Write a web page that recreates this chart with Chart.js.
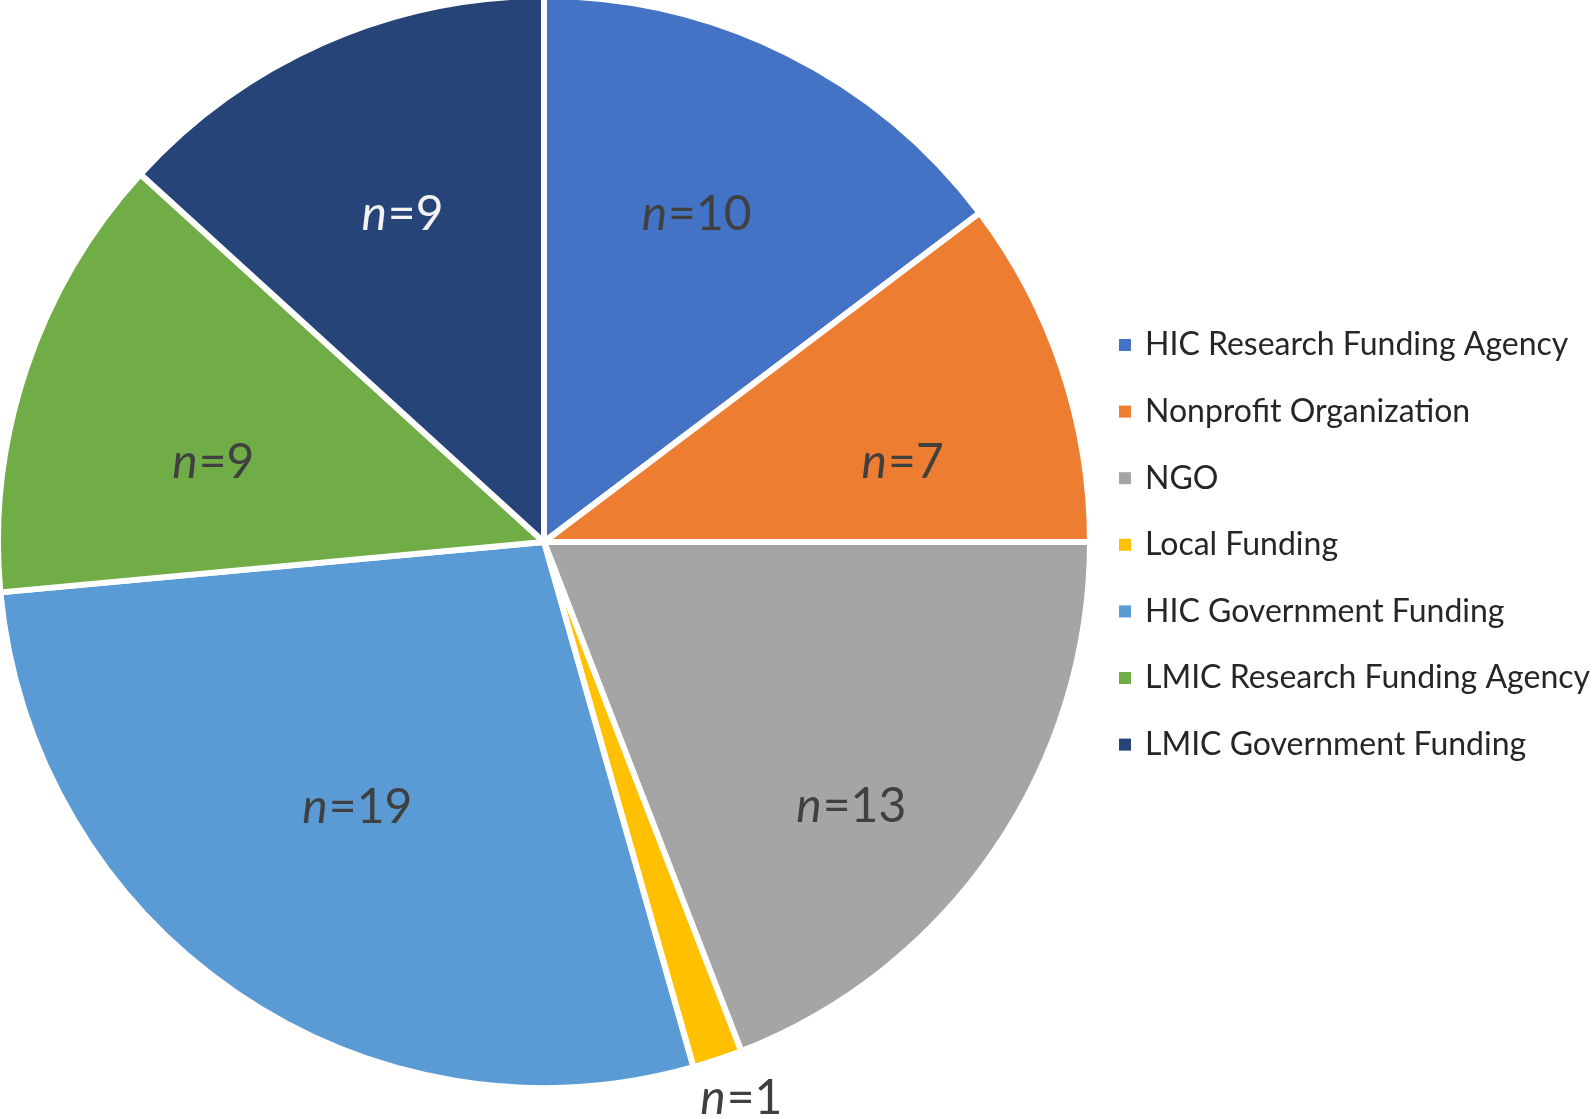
<!DOCTYPE html>
<html>
<head>
<meta charset="utf-8">
<script src="https://cdn.jsdelivr.net/npm/chart.js@4"></script>
<style>
  html, body { margin: 0; padding: 0; background: #ffffff; }
  #wrap { position: relative; width: 1594px; height: 1119px; }
</style>
</head>
<body>
<div id="wrap"><canvas id="c" width="1594" height="1119"></canvas></div>
<script>
// ---- data ----
const categories = [
  "HIC Research Funding Agency",
  "Nonprofit Organization",
  "NGO",
  "Local Funding",
  "HIC Government Funding",
  "LMIC Research Funding Agency",
  "LMIC Government Funding"
];
const counts = [10, 7, 13, 1, 19, 9, 9];
const sliceColors = ["#4472C4", "#ED7D31", "#A5A5A5", "#FFC000", "#5B9BD5", "#70AD47", "#264478"];

// ---- label plugin: "n=" values on slices (Excel-like placement) ----
const sliceLabels = {
  id: 'sliceLabels',
  afterDatasetsDraw(chart, args, opts) {
    const ctx = chart.ctx;
    const meta = chart.getDatasetMeta(0);
    const fontSize = opts.fontSize;
    const total = counts.reduce((a, b) => a + b, 0);
    ctx.save();
    ctx.textBaseline = 'alphabetic';
    ctx.textAlign = 'left';
    meta.data.forEach((arc, i) => {
      const p = arc.getProps(['x', 'y', 'startAngle', 'endAngle', 'outerRadius'], true);
      const mid = (p.startAngle + p.endAngle) / 2;
      const frac = counts[i] / total;
      const dist = frac < 0.03 ? p.outerRadius + opts.outsideGap : p.outerRadius * opts.insideFrac;
      const nudge = opts.nudges[i] || [0, 0];
      const cx = p.x + Math.cos(mid) * dist + nudge[0];
      const cy = p.y + Math.sin(mid) * dist + nudge[1];
      const italic = 'italic ' + fontSize + 'px Lato';
      const normal = fontSize + 'px Lato';
      const rest = '=' + counts[i];
      ctx.fillStyle = (opts.colors && opts.colors[i]) || opts.color;
      ctx.font = italic;
      const wN = ctx.measureText('n').width;
      ctx.font = normal;
      const wR = ctx.measureText(rest).width;
      const x0 = cx - (wN + wR + 1) / 2;
      const base = cy + fontSize * 0.36;
      ctx.font = italic;
      ctx.fillText('n', x0, base);
      ctx.font = normal;
      ctx.fillText(rest, x0 + wN + 1, base);
    });
    ctx.restore();
  }
};

// ---- legend plugin ----
const sideLegend = {
  id: 'sideLegend',
  afterDraw(chart, args, opts) {
    const ctx = chart.ctx;
    const x = opts.x, y0 = opts.y, step = opts.step, box = opts.box;
    ctx.save();
    ctx.font = opts.font;
    ctx.textBaseline = 'middle';
    ctx.textAlign = 'left';
    categories.forEach((label, i) => {
      const y = y0 + i * step;
      ctx.fillStyle = sliceColors[i];
      ctx.fillRect(x, y - box / 2, box, box);
      ctx.fillStyle = opts.color;
      ctx.fillText(label, x + 26, y);
    });
    ctx.restore();
  }
};

new Chart(document.getElementById('c'), {
  type: 'pie',
  data: {
    labels: categories,
    datasets: [{
      data: counts,
      backgroundColor: sliceColors,
      borderColor: '#ffffff',
      borderWidth: 6,
      radius: 546
    }]
  },
  options: {
    responsive: false,
    animation: false,
    rotation: 0,
    layout: { padding: { left: 0, top: 0, right: 506, bottom: 35 } },
    plugins: {
      legend: { display: false },
      tooltip: { enabled: false },
      sliceLabels: {
        fontSize: 48,
        color: '#404040',
        colors: [null, null, null, null, null, null, '#F2F2F2'],
        insideFrac: 0.66,
        outsideGap: 50,
        nudges: [[-8, -7], [17, 33], [10, 59], [8, -10], [17, -34], [11, 33], [4, 0]]
      },
      sideLegend: {
        x: 1119, y: 345, step: 66.6, box: 12,
        font: '32px Lato',
        color: '#262626'
      }
    }
  },
  plugins: [sliceLabels, sideLegend]
});
</script>
</body>
</html>
